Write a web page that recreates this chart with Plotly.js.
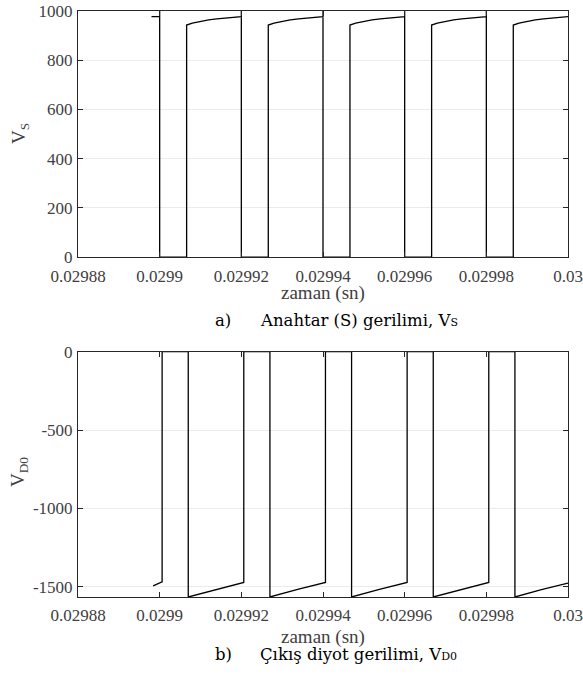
<!DOCTYPE html>
<html><head><meta charset="utf-8">
<script src="https://cdn.plot.ly/plotly-3.0.1.min.js"></script>
<style>html,body{margin:0;padding:0;background:#fff}#chart{width:583px;height:674px}</style>
</head><body><div id="chart"></div>
<script>
// x ticks (time, s)
const timeTickVals = [0.02988, 0.0299, 0.02992, 0.02994, 0.02996, 0.02998, 0.03];
const timeTickText = ['0.02988', '0.0299', '0.02992', '0.02994', '0.02996', '0.02998', '0.03'];

// a) switch voltage V_S
const vsTime = [
  0.029898, 0.0299, 0.0299, 0.0299,
  0.0299066, 0.0299066, 0.029908, 0.02991, 0.029912, 0.029914, 0.029916, 0.029918, 0.02992, 0.02992, 0.02992,
  0.0299266, 0.0299266, 0.029928, 0.02993, 0.029932, 0.029934, 0.029936, 0.029938, 0.02994, 0.02994, 0.02994,
  0.0299466, 0.0299466, 0.029948, 0.02995, 0.029952, 0.029954, 0.029956, 0.029958, 0.02996, 0.02996, 0.02996,
  0.0299666, 0.0299666, 0.029968, 0.02997, 0.029972, 0.029974, 0.029976, 0.029978, 0.02998, 0.02998, 0.02998,
  0.0299866, 0.0299866, 0.029988, 0.02999, 0.029992, 0.029994, 0.029996, 0.029998, 0.03
];
const vsValue = [
  977, 977, 1000, 0,
  0, 943, 951, 958, 964, 968, 972, 975, 977, 1000, 0,
  0, 943, 951, 958, 964, 968, 972, 975, 977, 1000, 0,
  0, 943, 951, 958, 964, 968, 972, 975, 977, 1000, 0,
  0, 943, 951, 958, 964, 968, 972, 975, 977, 1000, 0,
  0, 943, 951, 958, 964, 968, 972, 975, 977
];

// b) output diode voltage V_D0
const vdTime = [
  0.0298984, 0.0299006, 0.0299006,
  0.029907, 0.029907, 0.0299138, 0.0299206, 0.0299206,
  0.029927, 0.029927, 0.0299338, 0.0299406, 0.0299406,
  0.029947, 0.029947, 0.0299538, 0.0299606, 0.0299606,
  0.029967, 0.029967, 0.0299738, 0.0299806, 0.0299806,
  0.029987, 0.029987, 0.0299935, 0.03
];
const vdValue = [
  -1494, -1468, 0,
  0, -1565, -1516, -1472, 0,
  0, -1565, -1516, -1472, 0,
  0, -1565, -1516, -1472, 0,
  0, -1565, -1516, -1472, 0,
  0, -1565, -1518, -1476
];

const vsTickVals = [0, 200, 400, 600, 800, 1000];
const vsTickText = ['0', '200', '400', '600', '800', '1000'];
const vdTickVals = [-1500, -1000, -500, 0];
const vdTickText = ['-1500', '-1000', '-500', '0'];

const serif = 'Liberation Serif';
const capFont = 'DejaVu Serif';
const frame = '#262626';
const tickFont = {family: serif, size: 17, color: '#404040'};

function xAx(anchor) {
  return {anchor: anchor, range: [0.02988, 0.03], tickmode: 'array', tickvals: timeTickVals, ticktext: timeTickText,
    ticks: 'inside', ticklen: 5, tickcolor: frame, showline: true, linecolor: frame, linewidth: 1, mirror: 'ticks',
    showgrid: false, zeroline: false, tickfont: tickFont, ticklabelstandoff: 3};
}
function yAx(anchor, domain, range, tv, tt) {
  return {anchor: anchor, domain: domain, range: range, tickmode: 'array', tickvals: tv, ticktext: tt,
    ticks: 'inside', ticklen: 5, tickcolor: frame, showline: true, linecolor: frame, linewidth: 1, mirror: 'ticks',
    showgrid: true, gridcolor: '#ebebeb', gridwidth: 1, zeroline: false, tickfont: tickFont, ticklabelstandoff: 1};
}

const traces = [
  {x: vsTime, y: vsValue, xaxis: 'x', yaxis: 'y', type: 'scatter', mode: 'lines', line: {color: '#000', width: 1.3}, hoverinfo: 'skip'},
  {x: vdTime, y: vdValue, xaxis: 'x2', yaxis: 'y2', type: 'scatter', mode: 'lines', line: {color: '#000', width: 1.3}, hoverinfo: 'skip'}
];

function py(p) { return (597 - p) / 586; }
function px(p) { return (p - 78) / 490; }

const layout = {
  width: 583, height: 674,
  margin: {l: 78, r: 15, t: 11, b: 77},
  paper_bgcolor: '#fff', plot_bgcolor: '#fff',
  showlegend: false,
  font: {family: serif},
  xaxis: xAx('y'),
  yaxis: yAx('x', [0.58, 1], [0, 1000], vsTickVals, vsTickText),
  xaxis2: xAx('y2'),
  yaxis2: yAx('x2', [0, 0.4186], [-1565, 0], vdTickVals, vdTickText),
  annotations: [
    {text: 'V<sub>S</sub>', xref: 'paper', yref: 'paper', x: px(20), y: py(134), xanchor: 'center', yanchor: 'middle', textangle: -90, showarrow: false, font: {family: serif, size: 19, color: '#404040'}},
    {text: 'V<sub>D0</sub>', xref: 'paper', yref: 'paper', x: px(19), y: py(472), xanchor: 'center', yanchor: 'middle', textangle: -90, showarrow: false, font: {family: serif, size: 19, color: '#404040'}},
    {text: 'zaman (sn)', xref: 'paper', yref: 'paper', x: 0.5, y: py(293), xanchor: 'center', yanchor: 'middle', showarrow: false, font: {family: serif, size: 19, color: '#404040'}},
    {text: 'zaman (sn)', xref: 'paper', yref: 'paper', x: 0.5, y: py(637), xanchor: 'center', yanchor: 'middle', showarrow: false, font: {family: serif, size: 19, color: '#404040'}},
    {text: 'a)', xref: 'paper', yref: 'paper', x: px(213), y: py(320), xanchor: 'left', yanchor: 'middle', showarrow: false, font: {family: capFont, size: 16.5, color: '#000'}},
    {text: 'Anahtar (S) gerilimi, V<span style="font-size:11px">S</span>', xref: 'paper', yref: 'paper', x: px(258), y: py(320), xanchor: 'left', yanchor: 'middle', showarrow: false, font: {family: capFont, size: 16.5, color: '#000'}},
    {text: 'b)', xref: 'paper', yref: 'paper', x: px(213), y: py(654), xanchor: 'left', yanchor: 'middle', showarrow: false, font: {family: capFont, size: 16.5, color: '#000'}},
    {text: 'Çıkış diyot gerilimi, V<span style="font-size:11px">D0</span>', xref: 'paper', yref: 'paper', x: px(258), y: py(654), xanchor: 'left', yanchor: 'middle', showarrow: false, font: {family: capFont, size: 16.5, color: '#000'}}
  ]
};

Plotly.newPlot('chart', traces, layout, {staticPlot: true, displayModeBar: false});
</script>
</body></html>
